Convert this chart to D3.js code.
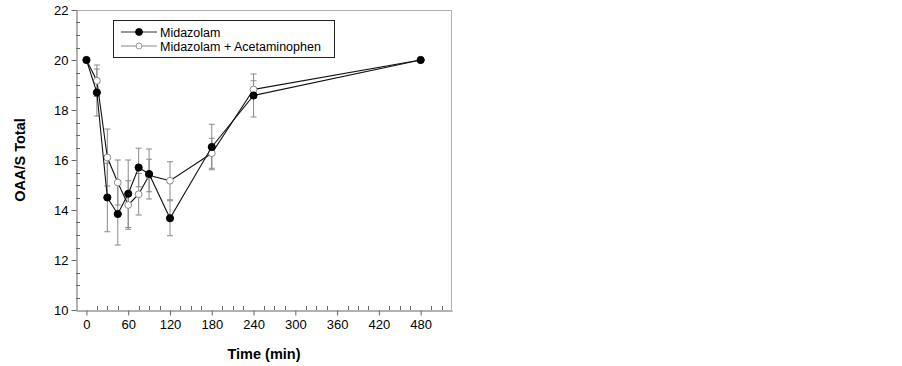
<!DOCTYPE html>
<html>
<head>
<meta charset="utf-8">
<script src="https://cdn.jsdelivr.net/npm/d3@7"></script>
<style>
  body { margin: 0; background: #fff; }
  text { font-family: Arial, 'Liberation Sans', sans-serif; }
</style>
</head>
<body>
<div id="chart"></div>
<script>
// time points (min)
var times = [0, 15, 30, 45, 60, 75, 90, 120, 180, 240, 480];
// Midazolam mean / SD
var midMean = [20.0, 18.7, 14.5, 13.84, 14.65, 15.7, 15.44, 13.67, 16.52, 18.58, 20.0];
var midSD = [0, 0.94, 1.37, 1.24, 1.35, 0.77, 1.0, 0.7, 0.91, 0.86, 0];
// Midazolam + Acetaminophen mean / SD
var comboMean = [20.0, 19.17, 16.1, 15.1, 14.2, 14.63, 15.38, 15.17, 16.27, 18.82, 20.0];
var comboSD = [0, 0.63, 1.14, 0.9, 0.97, 0.83, 0.65, 0.76, 0.6, 0.35, 0];

var xTicks = [0, 60, 120, 180, 240, 300, 360, 420, 480];
var yTicks = [10, 12, 14, 16, 18, 20, 22];
var seriesNames = ["Midazolam", "Midazolam + Acetaminophen"];

var width = 902, height = 366;
var svg = d3.select("#chart").append("svg")
    .attr("width", width)
    .attr("height", height);

var x = d3.scaleLinear().domain([-15, 525]).range([76, 452]);
var y = d3.scaleLinear().domain([10, 22]).range([310, 10]);

// frame (top + right, light)
svg.append("path")
    .attr("d", "M76,10.5H451.5V310")
    .attr("fill", "none")
    .attr("stroke", "#b0b0b0")
    .attr("stroke-width", 1);

// minor ticks inside
var xMinor = d3.range(15, 525, 15).filter(d => d % 60 !== 0);
svg.append("g").selectAll("line")
    .data(xMinor)
    .enter().append("line")
    .attr("x1", d => Math.round(x(d)) + 0.5)
    .attr("x2", d => Math.round(x(d)) + 0.5)
    .attr("y1", 310)
    .attr("y2", 306)
    .attr("stroke", "#666");

var yMinor = d3.range(10.5, 22, 0.5).filter(d => d % 2 !== 0);
svg.append("g").selectAll("line")
    .data(yMinor)
    .enter().append("line")
    .attr("x1", 76)
    .attr("x2", 80)
    .attr("y1", d => Math.round(y(d)) + 0.5)
    .attr("y2", d => Math.round(y(d)) + 0.5)
    .attr("stroke", "#666");

var xAxis = svg.append("g")
    .attr("transform", "translate(0,310.5)")
    .call(d3.axisBottom(x).tickValues(xTicks).tickSize(5).tickSizeOuter(0).tickPadding(4))
    .call(g => g.select(".domain").attr("stroke", "#666"))
    .call(g => g.selectAll(".tick line").attr("stroke", "#666"))
    .call(g => g.selectAll("text").attr("fill", "#000").style("font-size", "13px")
        .style("font-family", "Arial, 'Liberation Sans', sans-serif"));

var yAxis = svg.append("g")
    .attr("transform", "translate(76.5,0)")
    .call(d3.axisLeft(y).tickValues(yTicks).tickSize(5).tickSizeOuter(0).tickPadding(3))
    .call(g => g.select(".domain").attr("stroke", "#666"))
    .call(g => g.selectAll(".tick line").attr("stroke", "#666"))
    .call(g => g.selectAll("text").attr("fill", "#000").style("font-size", "13px")
        .style("font-family", "Arial, 'Liberation Sans', sans-serif"));

// axis titles
svg.append("text")
    .attr("transform", "rotate(-90)")
    .attr("x", -160)
    .attr("y", 25)
    .style("text-anchor", "middle")
    .style("font-size", "14.5px")
    .style("font-weight", "bold")
    .text("OAA/S Total");

svg.append("text")
    .attr("x", 264)
    .attr("y", 359)
    .style("text-anchor", "middle")
    .style("font-size", "14.5px")
    .style("font-weight", "bold")
    .text("Time (min)");

var series = [
    { name: seriesNames[0], mean: midMean, sd: midSD, filled: true },
    { name: seriesNames[1], mean: comboMean, sd: comboSD, filled: false }
];

// error bars
series.forEach(function (s) {
    var pts = times.map((t, i) => ({ t: t, m: s.mean[i], sd: s.sd[i] })).filter(d => d.sd > 0);
    var g = svg.append("g").attr("stroke", "#8a8a8a").attr("stroke-width", 1);
    g.selectAll(".v").data(pts).enter().append("line")
        .attr("x1", d => x(d.t)).attr("x2", d => x(d.t))
        .attr("y1", d => y(d.m + d.sd)).attr("y2", d => y(d.m - d.sd));
    g.selectAll(".ct").data(pts).enter().append("line")
        .attr("x1", d => x(d.t) - 3).attr("x2", d => x(d.t) + 3)
        .attr("y1", d => y(d.m + d.sd)).attr("y2", d => y(d.m + d.sd));
    g.selectAll(".cb").data(pts).enter().append("line")
        .attr("x1", d => x(d.t) - 3).attr("x2", d => x(d.t) + 3)
        .attr("y1", d => y(d.m - d.sd)).attr("y2", d => y(d.m - d.sd));
});

var line = d3.line().x(d => x(d.t)).y(d => y(d.m));

// draw open series first, filled on top
[series[1], series[0]].forEach(function (s) {
    var pts = times.map((t, i) => ({ t: t, m: s.mean[i] }));
    svg.append("path")
        .datum(pts)
        .attr("fill", "none")
        .attr("stroke", "#111")
        .attr("stroke-width", 1.1)
        .attr("d", line);
    svg.append("g").selectAll("circle")
        .data(pts)
        .enter().append("circle")
        .attr("cx", d => x(d.t))
        .attr("cy", d => y(d.m))
        .attr("r", s.filled ? 3.6 : 3.4)
        .attr("fill", s.filled ? "#000" : "#fff")
        .attr("stroke", s.filled ? "#000" : "#8a8a8a")
        .attr("stroke-width", 1);
});

// legend
var legend = svg.append("g");
legend.append("rect")
    .attr("x", 113.5).attr("y", 20.5)
    .attr("width", 221).attr("height", 37)
    .attr("fill", "#fff")
    .attr("stroke", "#222");

series.forEach(function (s, i) {
    var ly = 32 + i * 14;
    legend.append("line")
        .attr("x1", 121).attr("x2", 157)
        .attr("y1", ly).attr("y2", ly)
        .attr("stroke", s.filled ? "#333" : "#888");
    legend.append("circle")
        .attr("cx", 139).attr("cy", ly)
        .attr("r", s.filled ? 3.4 : 3)
        .attr("fill", s.filled ? "#000" : "#fff")
        .attr("stroke", s.filled ? "#000" : "#999");
    legend.append("text")
        .attr("x", 160).attr("y", ly + 4.5)
        .style("font-size", "12.5px")
        .attr("fill", "#000")
        .text(s.name);
});
</script>
</body>
</html>
